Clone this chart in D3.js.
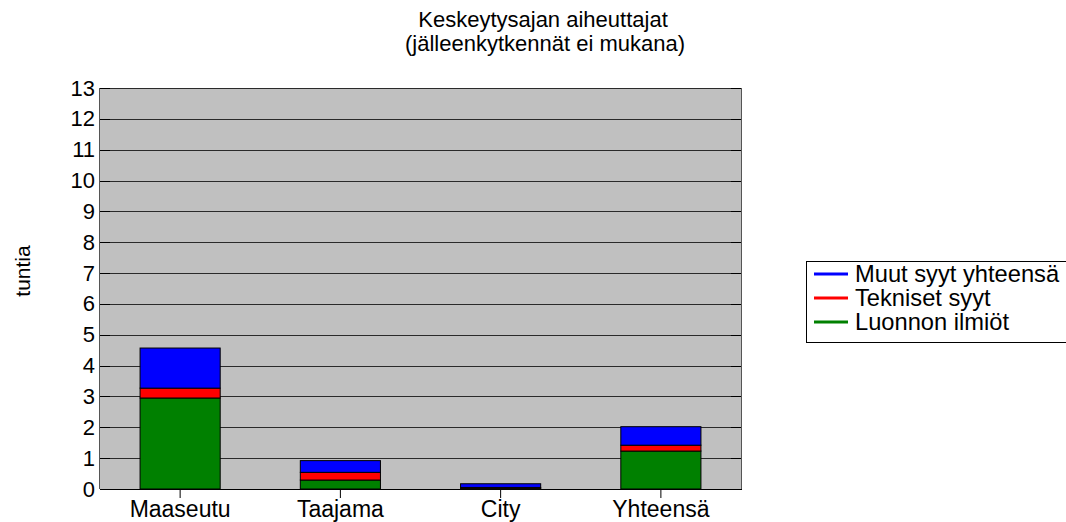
<!DOCTYPE html>
<html>
<head>
<meta charset="utf-8">
<script src="https://cdn.jsdelivr.net/npm/d3@7"></script>
<style>
  body { margin: 0; background: #fff; }
  text { font-family: "Liberation Sans", Arial, sans-serif; fill: #000; }
</style>
</head>
<body>
<script>
let w = 1066;
let h = 522;

// data
const categories = ["Maaseutu", "Taajama", "City", "Yhteensä"];
const luonnon = [2.95, 0.29, 0.02, 1.23];
const tekniset = [0.32, 0.25, 0.03, 0.19];
const muut = [1.30, 0.38, 0.12, 0.60];
const seriesNames = ["Luonnon ilmiöt", "Tekniset syyt", "Muut syyt yhteensä"];
const seriesColors = ["#008000", "#ff0000", "#0000ff"];
const yTicks = d3.range(0, 14);

let plot = {left: 100, right: 741, top: 88, bottom: 489};

let svg = d3.select("body")
            .append("svg")
            .attr("width", w)
            .attr("height", h);

let x = d3.scaleBand(categories, [plot.left, plot.right]).paddingInner(0.5).paddingOuter(0.25);
let y = d3.scaleLinear([0, 13], [plot.bottom, plot.top]);

svg.append("rect")
   .attr("x", plot.left)
   .attr("y", plot.top)
   .attr("width", plot.right - plot.left)
   .attr("height", plot.bottom - plot.top)
   .attr("fill", "#c0c0c0");

// grid lines
let grid = svg.append("g");
grid.selectAll("line.grid")
   .data(yTicks)
   .enter()
   .append("line")
   .attr("class", "grid")
   .attr("x1", plot.left)
   .attr("x2", plot.right)
   .attr("y1", d => Math.round(y(d)) + 0.5)
   .attr("y2", d => Math.round(y(d)) + 0.5)
   .attr("stroke", "#2a2a2a")
   .attr("stroke-width", 1);
// little inner ticks at both edges
grid.selectAll("line.tl")
   .data(yTicks)
   .enter()
   .append("line")
   .attr("x1", plot.left)
   .attr("x2", plot.left + 10)
   .attr("y1", d => Math.round(y(d)) + 0.5)
   .attr("y2", d => Math.round(y(d)) + 0.5)
   .attr("stroke", "#000");
grid.selectAll("line.tr")
   .data(yTicks)
   .enter()
   .append("line")
   .attr("x1", plot.right - 10)
   .attr("x2", plot.right)
   .attr("y1", d => Math.round(y(d)) + 0.5)
   .attr("y2", d => Math.round(y(d)) + 0.5)
   .attr("stroke", "#000");

// stacked bars
let rows = categories.map((c, i) => ({cat: c, luonnon: luonnon[i], tekniset: tekniset[i], muut: muut[i]}));
let stack = d3.stack().keys(["luonnon", "tekniset", "muut"])(rows);

svg.append("g")
   .selectAll("g")
   .data(stack)
   .enter()
   .append("g")
   .attr("fill", (d, i) => seriesColors[i])
   .selectAll("rect")
   .data(d => d)
   .enter()
   .append("rect")
   .attr("x", d => x(d.data.cat))
   .attr("y", d => y(d[1]))
   .attr("width", x.bandwidth())
   .attr("height", d => y(d[0]) - y(d[1]))
   .attr("stroke", "#000")
   .attr("stroke-width", 1);

// axes frame
svg.append("line")
   .attr("x1", plot.left - 0.5).attr("x2", plot.left - 0.5)
   .attr("y1", plot.top).attr("y2", plot.bottom)
   .attr("stroke", "#555");
svg.append("line")
   .attr("x1", plot.right + 0.5).attr("x2", plot.right + 0.5)
   .attr("y1", plot.top).attr("y2", plot.bottom)
   .attr("stroke", "#555");

let yAxis = d3.axisLeft(y).tickValues(yTicks).tickSize(0).tickPadding(5);
let gy = svg.append("g")
   .attr("transform", `translate(${plot.left},0)`)
   .call(yAxis);
gy.select(".domain").remove();
gy.selectAll("text").style("font-size", "22px").attr("font-family", null);

let xAxis = d3.axisBottom(x).tickSize(9).tickPadding(3);
let gx = svg.append("g")
   .attr("transform", `translate(0,${plot.bottom})`)
   .call(xAxis);
gx.select(".domain").remove();
gx.selectAll("line").attr("stroke", "#000");
gx.selectAll("text").style("font-size", "23px").attr("font-family", null);

svg.append("line")
   .attr("x1", plot.left).attr("x2", plot.right + 1)
   .attr("y1", plot.bottom + 0.5).attr("y2", plot.bottom + 0.5)
   .attr("stroke", "#000");

// title
let title = svg.append("text")
   .attr("text-anchor", "middle")
   .style("font-size", "22px");
title.append("tspan").attr("x", 543).attr("y", 27).text("Keskeytysajan aiheuttajat");
title.append("tspan").attr("x", 545).attr("y", 51).text("(jälleenkytkennät ei mukana)");

// y label
svg.append("text")
   .attr("transform", "translate(30,271) rotate(-90)")
   .attr("text-anchor", "middle")
   .style("font-size", "21px")
   .text("tuntia");

// legend
let legend = svg.append("g").attr("transform", "translate(806,261)");
legend.append("rect")
   .attr("x", 0.5).attr("y", 0.5)
   .attr("width", 270).attr("height", 81)
   .attr("fill", "#fff")
   .attr("stroke", "#000");
let legendOrder = [2, 1, 0];
legendOrder.forEach((s, i) => {
  legend.append("line")
     .attr("x1", 8).attr("x2", 42)
     .attr("y1", 13 + i * 24).attr("y2", 13 + i * 24)
     .attr("stroke", seriesColors[s])
     .attr("stroke-width", 3);
  legend.append("text")
     .attr("x", 49)
     .attr("y", 21 + i * 24)
     .style("font-size", "23.7px")
     .text(seriesNames[s]);
});
</script>
</body>
</html>
